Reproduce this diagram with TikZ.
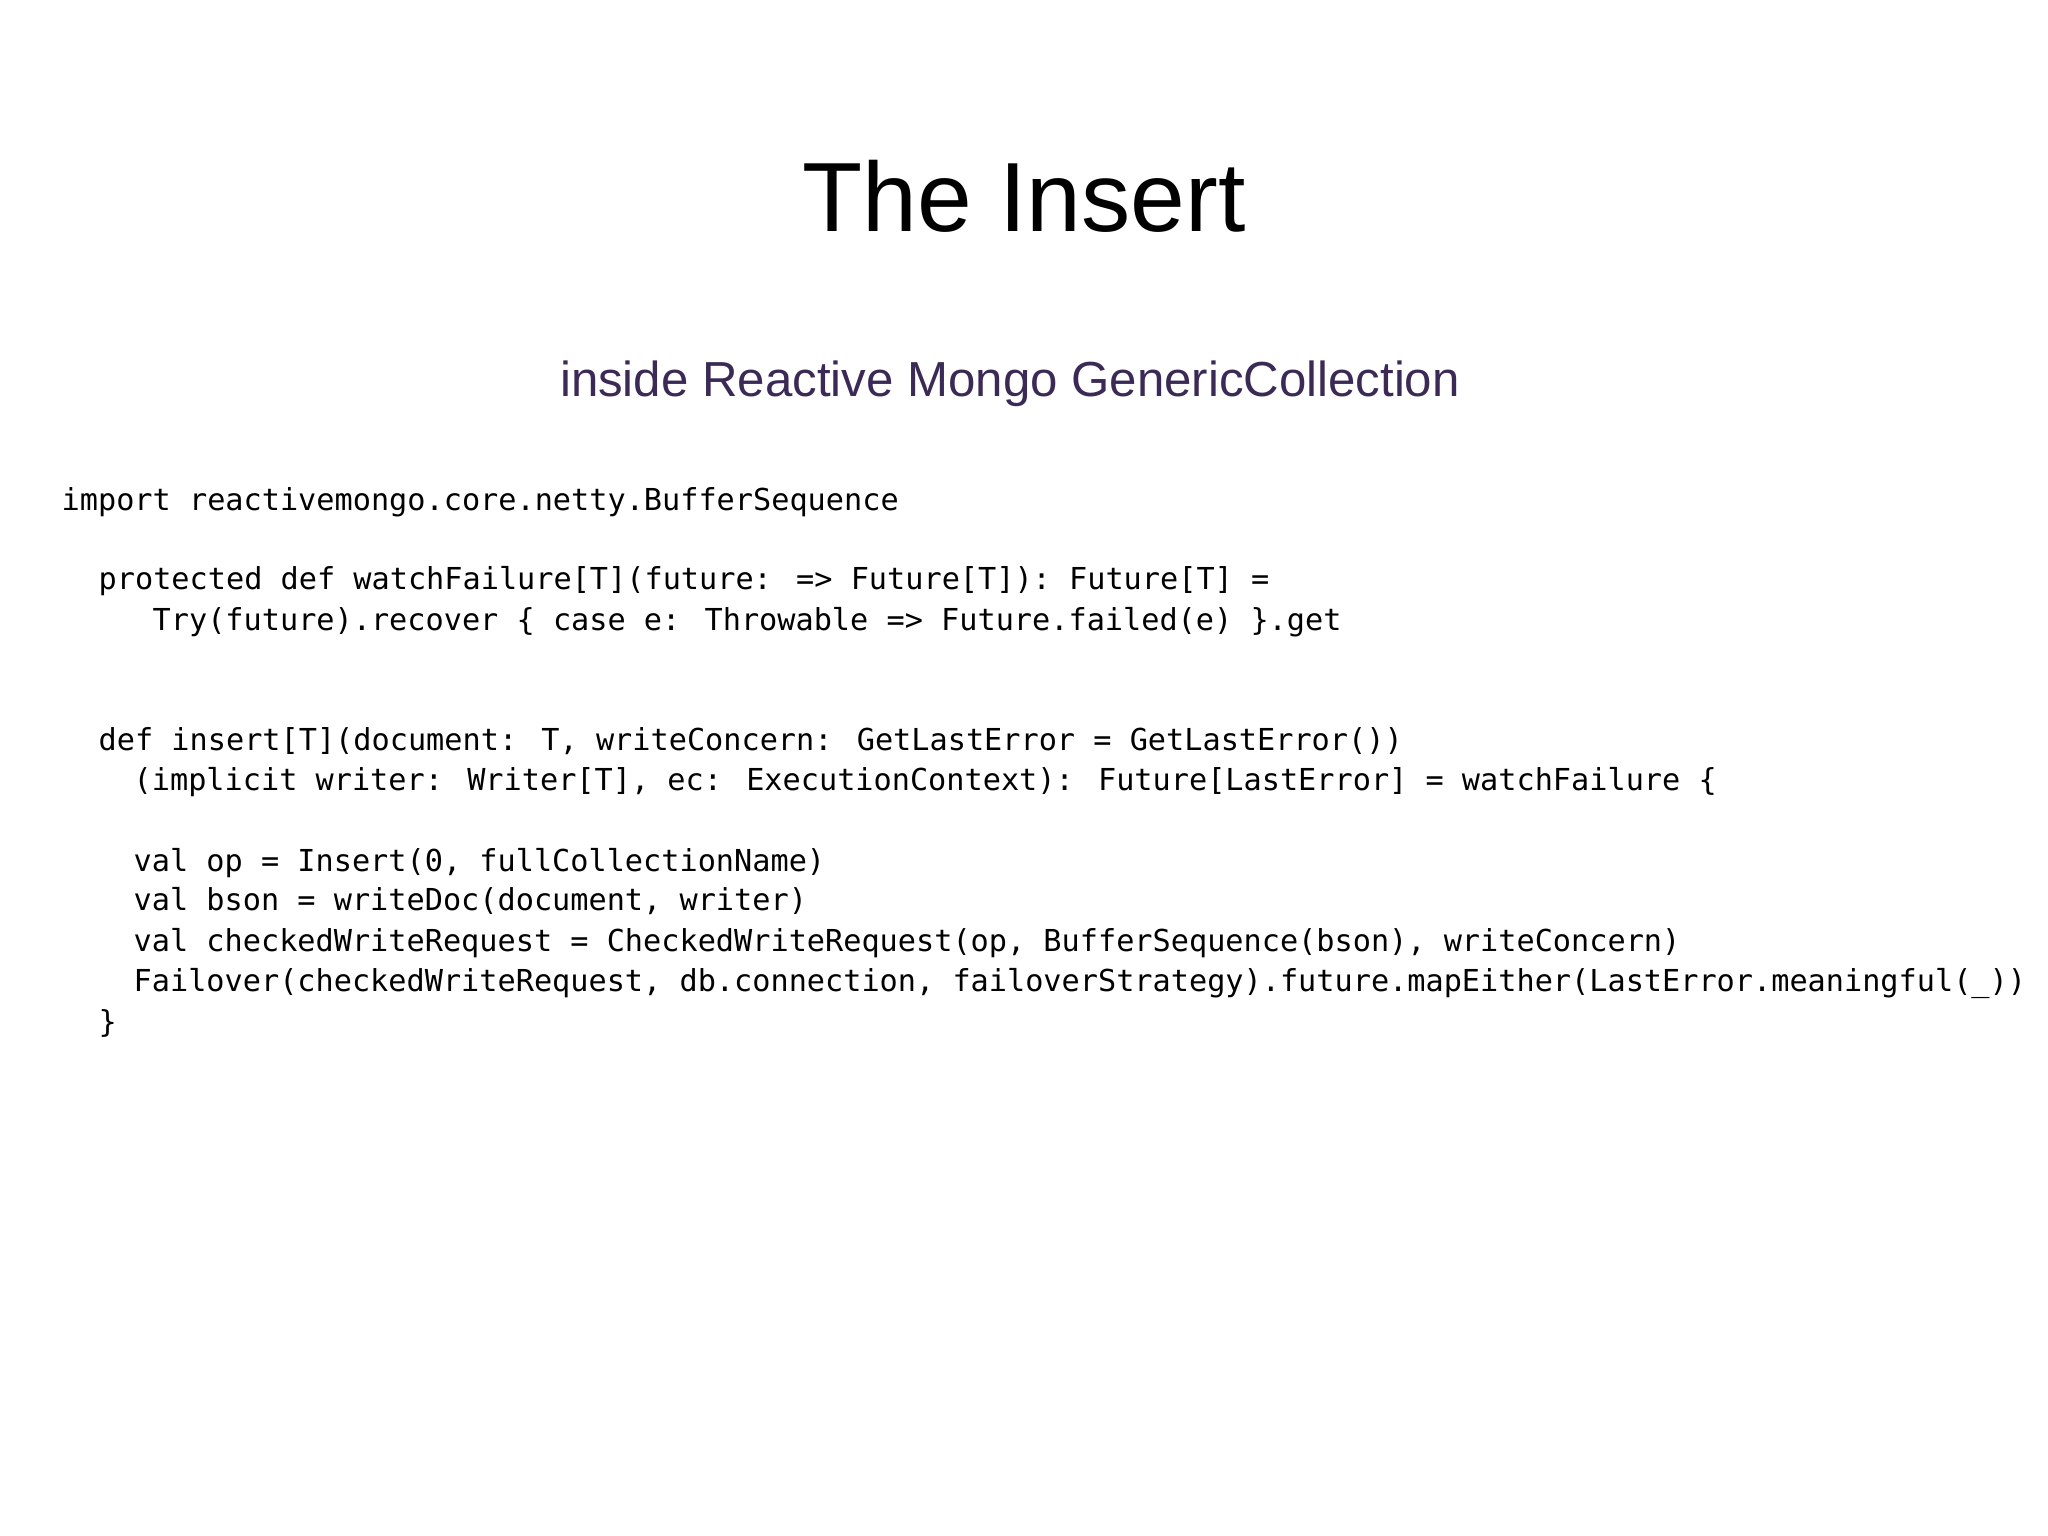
\documentclass[tikz,border=0pt]{standalone}
\usepackage{fontspec}
\setmainfont{Liberation Sans}
\newfontfamily\codefont{DejaVu Sans Mono}
\definecolor{subpurple}{HTML}{3B2A55}
\begin{document}
\begin{tikzpicture}
\useasboundingbox (0,0) rectangle (20.48,-15.36);
\fill[white] (0,0) rectangle (20.48,-15.36);
\tikzset{code/.style={anchor=base west,inner sep=0pt,font=\codefont\fontsize{8.6pt}{10pt}\selectfont}}
\node[anchor=base,inner sep=0pt,font=\fontsize{28pt}{32pt}\selectfont] (title) at (10.24,-2.32) {The Insert};
\node[anchor=base,inner sep=0pt,text=subpurple,font=\fontsize{14pt}{16pt}\selectfont] (sub) at (10.10,-3.96) {inside Reactive Mongo GenericCollection};
\node[code] (l1) at (0.61,-5.11) {import reactivemongo.core.netty.BufferSequence};
\node[code] (l2) at (0.98,-5.90) {protected def watchFailure[T](future: => Future[T]): Future[T] =};
\node[code] (l3) at (1.52,-6.31) {Try(future).recover \{ case e: Throwable => Future.failed(e) \}.get};
\node[code] (l4) at (0.98,-7.51) {def insert[T](document: T, writeConcern: GetLastError = GetLastError())};
\node[code] (l5) at (1.33,-7.90) {(implicit writer: Writer[T], ec: ExecutionContext): Future[LastError] = watchFailure \{};
\node[code] (l6) at (1.33,-8.71) {val op = Insert(0, fullCollectionName)};
\node[code] (l7) at (1.33,-9.10) {val bson = writeDoc(document, writer)};
\node[code] (l8) at (1.33,-9.51) {val checkedWriteRequest = CheckedWriteRequest(op, BufferSequence(bson), writeConcern)};
\node[code] (l9) at (1.33,-9.91) {Failover(checkedWriteRequest, db.connection, failoverStrategy).future.mapEither(LastError.meaningful(\_))};
\node[code] (l10) at (0.98,-10.32) {\}};
\end{tikzpicture}
\end{document}
